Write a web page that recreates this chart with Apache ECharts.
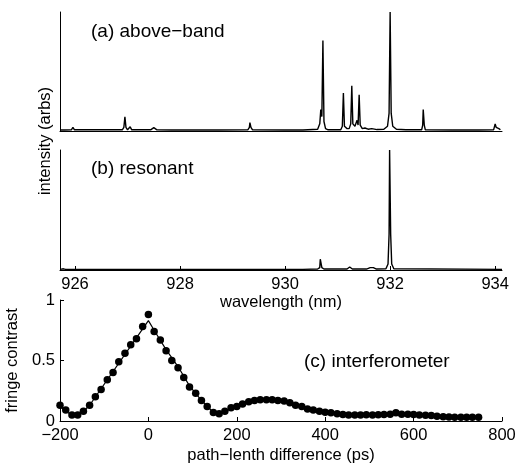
<!DOCTYPE html>
<html>
<head>
<meta charset="utf-8">
<script src="https://cdn.jsdelivr.net/npm/echarts@6/dist/echarts.min.js"></script>
<style>
  html, body { margin: 0; padding: 0; background: #fff; }
  #chart { width: 515px; height: 464px; }
</style>
</head>
<body>
<div id="chart"></div>
<script>
// (a) above-band spectrum: [wavelength nm, intensity]
const specAboveBand = [
  [925.72, 0.008], [925.76, 0.008], [925.78, 0.018], [925.80, 0.008],
  [925.93, 0.01], [925.96, 0.03], [925.99, 0.01],
  [926.90, 0.01], [926.93, 0.03], [926.95, 0.12], [926.97, 0.03], [927.00, 0.01],
  [927.05, 0.035], [927.08, 0.01],
  [927.44, 0.01], [927.50, 0.028], [927.56, 0.01],
  [927.84, 0.008], [927.86, 0.015], [927.88, 0.008],
  [927.99, 0.008], [928.00, 0.016], [928.01, 0.008],
  [928.70, 0.008], [928.72, 0.014], [928.74, 0.008],
  [929.29, 0.01], [929.32, 0.03], [929.33, 0.07], [929.35, 0.03], [929.38, 0.01],
  [929.98, 0.008], [930.00, 0.02], [930.02, 0.008],
  [930.30, 0.008], [930.32, 0.02], [930.34, 0.008],
  [930.62, 0.015], [930.66, 0.06], [930.68, 0.18], [930.70, 0.12], [930.72, 0.76],
  [930.74, 0.08], [930.77, 0.02], [930.82, 0.01],
  [931.06, 0.01], [931.09, 0.04], [931.11, 0.32], [931.13, 0.04], [931.18, 0.02],
  [931.22, 0.02], [931.25, 0.06], [931.27, 0.38], [931.29, 0.06], [931.33, 0.04],
  [931.37, 0.09], [931.39, 0.05], [931.41, 0.305], [931.43, 0.05], [931.47, 0.02],
  [931.52, 0.025], [931.58, 0.015], [931.65, 0.02], [931.75, 0.012], [931.88, 0.015],
  [931.95, 0.04], [931.98, 0.15], [932.00, 1.0], [932.02, 0.15], [932.05, 0.04], [932.12, 0.015],
  [932.30, 0.01],
  [932.60, 0.01], [932.62, 0.05], [932.63, 0.18], [932.65, 0.05], [932.67, 0.01],
  [933.18, 0.008], [933.20, 0.016], [933.22, 0.008],
  [933.37, 0.008], [933.39, 0.016], [933.41, 0.008],
  [933.50, 0.008], [933.52, 0.014], [933.54, 0.008],
  [933.65, 0.008], [933.67, 0.014], [933.69, 0.008],
  [933.97, 0.01], [934.00, 0.06], [934.02, 0.03], [934.05, 0.045], [934.07, 0.02], [934.10, 0.01]
];

// (b) resonant spectrum
const specResonant = [
  [925.72, 0.005], [925.78, 0.01], [925.82, 0.005],
  [930.30, 0.005], [930.32, 0.012], [930.34, 0.005],
  [930.62, 0.008], [930.66, 0.02], [930.67, 0.09], [930.69, 0.09], [930.70, 0.02], [930.74, 0.008],
  [931.18, 0.008], [931.23, 0.025], [931.28, 0.008],
  [931.55, 0.008], [931.62, 0.02], [931.68, 0.02], [931.74, 0.008],
  [931.92, 0.01], [931.96, 0.05], [931.98, 0.3], [931.99, 1.0], [932.01, 0.3], [932.03, 0.05], [932.07, 0.01],
  [934.13, 0.005]
];

const wavelengthTicks = [926, 928, 930, 932, 934];

// (c) interferometer: path-length difference (ps) and fringe contrast
const delayPs = [
  -200, -187, -173, -160, -147, -133, -120, -107, -93, -80, -67, -53, -40, -27, -13, 0,
  13, 27, 40, 53, 67, 80, 93, 107, 120, 133, 147, 160, 173, 187, 200, 213, 227, 240,
  253, 267, 280, 293, 307, 320, 333, 347, 360, 373, 387, 400, 413, 427, 440, 453,
  467, 480, 493, 507, 520, 533, 547, 560, 573, 587, 600, 613, 627, 640, 653, 667,
  680, 693, 707, 720, 733, 747
];
const fringeContrast = [
  0.13, 0.09, 0.05, 0.05, 0.08, 0.13, 0.20, 0.26, 0.34, 0.40, 0.49, 0.56, 0.63, 0.68, 0.78, 0.88,
  0.74, 0.67, 0.58, 0.50, 0.44, 0.36, 0.28, 0.23, 0.17, 0.12, 0.07, 0.06, 0.08, 0.11, 0.12, 0.14, 0.16, 0.17,
  0.175, 0.175, 0.175, 0.17, 0.165, 0.15, 0.13, 0.12, 0.10, 0.09, 0.08, 0.072, 0.068, 0.06, 0.053, 0.05,
  0.05, 0.05, 0.052, 0.05, 0.052, 0.053, 0.055, 0.068, 0.055, 0.055, 0.053, 0.05, 0.048, 0.045, 0.04, 0.035,
  0.033, 0.03, 0.03, 0.03, 0.03, 0.03
];
// fitted curve drawn under the points
const fitCurve = [
  [-200, 0.12], [-187, 0.08], [-173, 0.05], [-160, 0.05], [-147, 0.08], [-133, 0.13],
  [0, 0.83], [13, 0.75], [40, 0.59], [67, 0.45], [93, 0.29], [120, 0.17], [147, 0.07],
  [160, 0.06], [173, 0.08], [200, 0.12], [240, 0.17], [280, 0.175],
  [320, 0.15], [360, 0.10], [400, 0.072], [453, 0.05], [547, 0.055], [600, 0.052], [747, 0.03]
];

const FONT = 'Liberation Sans';
const axisLineStyle = { onZero: false, lineStyle: { color: '#000', width: 1 } };

const chart = echarts.init(document.getElementById('chart'));
chart.setOption({
  animation: false,
  textStyle: { fontFamily: FONT },
  grid: [
    { left: 60, top: 12, width: 442, height: 119, outerBoundsMode: 'none' },
    { left: 60, top: 150, width: 442, height: 120, outerBoundsMode: 'none' },
    { left: 60, top: 300, width: 442, height: 121, outerBoundsMode: 'none' }
  ],
  xAxis: [
    {
      gridIndex: 0, type: 'value', min: 925.714, max: 934.13,
      axisLine: axisLineStyle, axisTick: { show: false },
      axisLabel: { show: false }, splitLine: { show: false }
    },
    {
      gridIndex: 1, type: 'value', min: 925.714, max: 934.13,
      axisLine: axisLineStyle,
      axisTick: { inside: true, length: 4, customValues: wavelengthTicks, lineStyle: { color: '#000' } },
      axisLabel: { customValues: wavelengthTicks, color: '#000', fontSize: 16.5, margin: 6, fontFamily: FONT },
      splitLine: { show: false },
      name: 'wavelength (nm)', nameLocation: 'middle', nameGap: 21,
      nameTextStyle: { color: '#000', fontSize: 16.5, fontFamily: FONT }
    },
    {
      gridIndex: 2, type: 'value', min: -200, max: 800, interval: 200,
      axisLine: axisLineStyle,
      axisTick: { inside: true, length: 4, lineStyle: { color: '#000' } },
      axisLabel: {
        color: '#000', fontSize: 16.5, margin: 6, fontFamily: FONT,
        formatter: v => String(v).replace('-', '\u2212')
      },
      splitLine: { show: false },
      name: 'path\u2212lenth difference (ps)', nameLocation: 'middle', nameGap: 26,
      nameTextStyle: { color: '#000', fontSize: 16.5, fontFamily: FONT }
    }
  ],
  yAxis: [
    {
      gridIndex: 0, type: 'value', min: 0, max: 1,
      axisLine: { show: true, onZero: false, lineStyle: { color: '#000' } }, axisTick: { show: false },
      axisLabel: { show: false }, splitLine: { show: false }
    },
    {
      gridIndex: 1, type: 'value', min: 0, max: 1,
      axisLine: { show: true, onZero: false, lineStyle: { color: '#000' } }, axisTick: { show: false },
      axisLabel: { show: false }, splitLine: { show: false }
    },
    {
      gridIndex: 2, type: 'value', min: 0, max: 1, interval: 0.5,
      axisLine: { show: true, onZero: false, lineStyle: { color: '#000' } },
      axisTick: { inside: true, length: 4, lineStyle: { color: '#000' } },
      axisLabel: { color: '#000', fontSize: 16.5, margin: 5, fontFamily: FONT },
      splitLine: { show: false },
      name: 'fringe contrast', nameLocation: 'middle', nameGap: 37,
      nameTextStyle: { color: '#000', fontSize: 16.5, fontFamily: FONT }
    }
  ],
  graphic: [
    { type: 'text', x: 91, y: 32, style: { text: '(a) above\u2212band', fill: '#000', font: '19px "Liberation Sans"', verticalAlign: 'middle' } },
    { type: 'text', x: 91, y: 169, style: { text: '(b) resonant', fill: '#000', font: '19px "Liberation Sans"', verticalAlign: 'middle' } },
    { type: 'text', x: 304, y: 362, style: { text: '(c) interferometer', fill: '#000', font: '19px "Liberation Sans"', verticalAlign: 'middle' } },
    { type: 'text', x: 45, y: 141, rotation: Math.PI / 2, style: { text: 'intensity (arbs)', fill: '#000', font: '16.5px "Liberation Sans"', align: 'center', verticalAlign: 'middle' } }
  ],
  series: [
    {
      type: 'line', xAxisIndex: 0, yAxisIndex: 0, data: specAboveBand,
      showSymbol: false, lineStyle: { color: '#000', width: 1.4 }, z: 3
    },
    {
      type: 'line', xAxisIndex: 1, yAxisIndex: 1, data: specResonant,
      showSymbol: false, lineStyle: { color: '#000', width: 1.4 }, z: 3
    },
    {
      type: 'line', xAxisIndex: 2, yAxisIndex: 2, data: fitCurve,
      showSymbol: false, lineStyle: { color: '#000', width: 1.2 }, z: 2
    },
    {
      type: 'scatter', xAxisIndex: 2, yAxisIndex: 2,
      data: delayPs.map((d, i) => [d, fringeContrast[i]]),
      symbol: 'circle', symbolSize: 7.5, itemStyle: { color: '#000', opacity: 1 }, z: 3
    }
  ]
});
</script>
</body>
</html>
